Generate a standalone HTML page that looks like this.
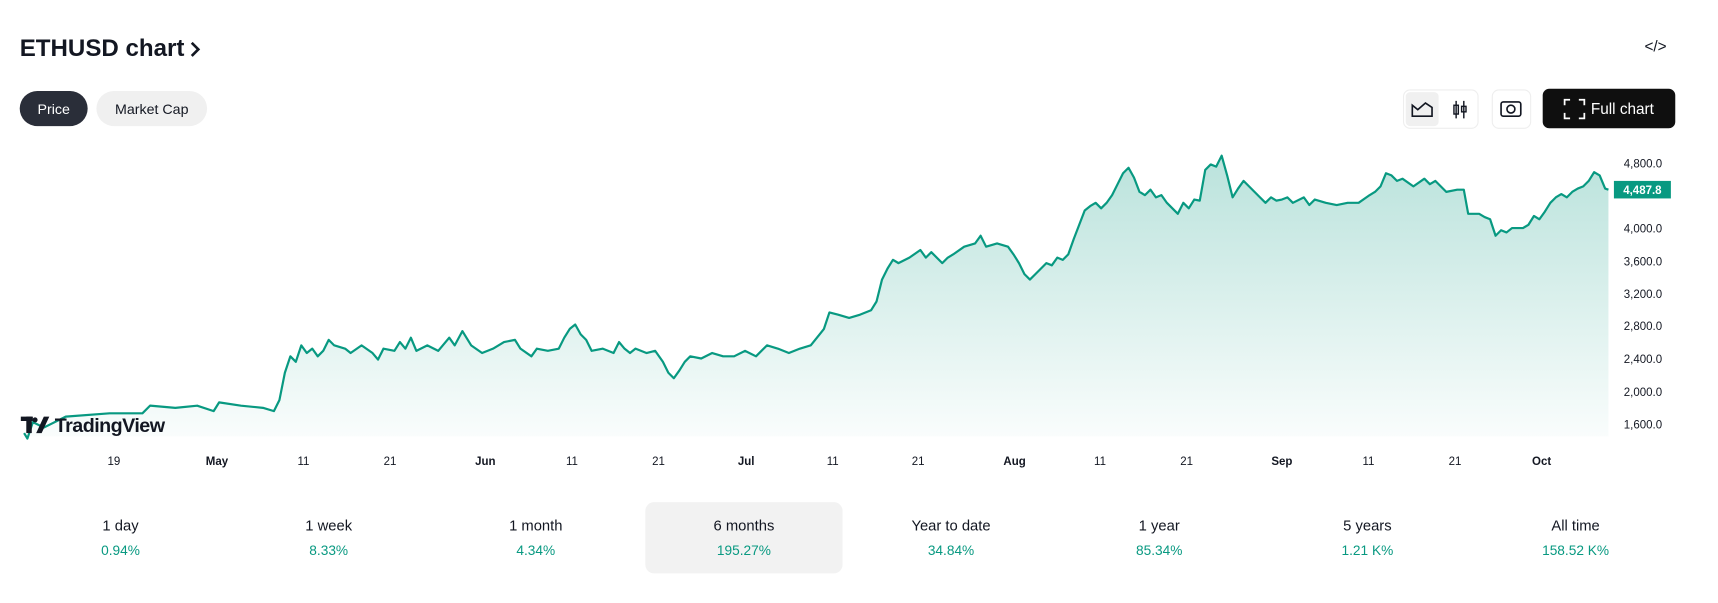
<!DOCTYPE html>
<html><head><meta charset="utf-8"><style>
html,body{margin:0;padding:0;background:#fff;}
svg{display:block;font-family:"Liberation Sans",sans-serif;}
</style></head><body>
<svg width="1718" height="603" viewBox="0 0 1568 550" preserveAspectRatio="none" xmlns="http://www.w3.org/2000/svg">
<defs>
<linearGradient id="g" x1="0" y1="0" x2="0" y2="1">
<stop offset="0" stop-color="#089981" stop-opacity="0.28"/>
<stop offset="1" stop-color="#089981" stop-opacity="0.02"/>
</linearGradient>
</defs>
<text x="18" y="51" font-size="22" font-weight="bold" fill="#131722">ETHUSD chart</text>
<path d="M175 39 L181 45 L175 51" stroke="#131722" stroke-width="2.4" fill="none"/>
<text x="1511" y="47" font-size="14" fill="#131722" text-anchor="middle">&lt;/&gt;</text>
<rect x="18" y="83" width="62" height="32" rx="16" fill="#2a2e39"/>
<text x="49" y="104" font-size="13" fill="#fff" text-anchor="middle">Price</text>
<rect x="88" y="83" width="101" height="32" rx="16" fill="#f0f0f0"/>
<text x="138.5" y="104" font-size="13" fill="#131722" text-anchor="middle">Market Cap</text>
<rect x="1281" y="82" width="68" height="35" rx="6" fill="#fff" stroke="#eee"/>
<rect x="1283" y="84" width="30" height="31" rx="4" fill="#f0f0f0"/>
<path d="M1289 106 V96 L1294 100 L1301 94 L1307 98 V106 Z" fill="none" stroke="#131722" stroke-width="1.5"/>
<path d="M1329 92 V108 M1336 92 V108" stroke="#131722" stroke-width="1.3"/>
<rect x="1327" y="96" width="4" height="8" fill="none" stroke="#131722" stroke-width="1.3"/>
<rect x="1334" y="97" width="4" height="5" fill="none" stroke="#131722" stroke-width="1.3"/>
<rect x="1362" y="82" width="35" height="35" rx="6" fill="#fff" stroke="#eee"/>
<rect x="1370" y="93" width="18" height="13" rx="2" fill="none" stroke="#131722" stroke-width="1.5"/>
<circle cx="1379" cy="99.5" r="3.6" fill="none" stroke="#131722" stroke-width="1.5"/>
<rect x="1408" y="81" width="121" height="36" rx="6" fill="#0f0f0f"/>
<path d="M1428 96v-5h5 M1441 91h5v5 M1446 103v5h-5 M1433 108h-5v-5" stroke="#fff" stroke-width="1.6" fill="none"/>
<text x="1452" y="104" font-size="14" fill="#fff">Full chart</text>

<path d="M22,395 L25,400 L30,385 L40,390 L60,380 L100,377 L130,377 L137,370 L160,372 L180,370 L195,375 L200,367 L220,370 L240,372 L250,375 L255,365 L260,340 L265,325 L270,330 L275,315 L280,322 L285,318 L290,325 L295,320 L300,310 L305,315 L315,318 L320,322 L330,315 L340,322 L345,328 L350,318 L360,320 L365,312 L370,318 L375,308 L380,320 L390,315 L400,320 L410,308 L415,315 L422,302 L430,315 L440,322 L450,318 L460,312 L470,310 L475,318 L485,325 L490,318 L500,320 L510,318 L515,308 L520,300 L525,296 L530,305 L535,310 L540,320 L550,318 L560,322 L565,312 L570,318 L575,322 L580,318 L590,322 L598,320 L605,330 L610,340 L615,345 L620,338 L625,330 L630,325 L640,327 L650,322 L660,325 L670,325 L680,320 L690,325 L700,315 L710,318 L720,322 L730,318 L740,315 L748,305 L752,300 L757,285 L765,287 L775,290 L785,287 L795,283 L800,275 L805,255 L810,245 L815,237 L820,240 L830,235 L840,228 L845,235 L850,230 L860,240 L865,235 L870,232 L880,225 L890,222 L895,215 L900,225 L910,222 L920,225 L925,232 L930,240 L935,250 L940,255 L945,250 L950,245 L955,240 L960,242 L965,235 L970,237 L975,232 L980,218 L985,205 L990,192 L995,188 L1000,185 L1005,190 L1010,185 L1015,178 L1020,168 L1025,158 L1030,153 L1035,162 L1040,175 L1045,178 L1050,173 L1055,180 L1060,178 L1065,185 L1070,190 L1075,195 L1080,185 L1085,190 L1090,182 L1095,183 L1100,155 L1105,150 L1110,152 L1115,142 L1120,160 L1125,180 L1130,172 L1135,165 L1140,170 L1145,175 L1150,180 L1155,185 L1160,180 L1165,183 L1170,182 L1175,180 L1180,185 L1190,180 L1195,187 L1200,182 L1210,185 L1220,187 L1230,185 L1240,185 L1250,178 L1255,175 L1260,170 L1265,158 L1270,160 L1275,165 L1280,163 L1290,170 L1300,163 L1305,168 L1310,165 L1320,175 L1330,173 L1336,173 L1340,195 L1350,195 L1355,198 L1360,200 L1365,215 L1370,210 L1375,212 L1380,208 L1390,208 L1395,205 L1400,197 L1405,200 L1410,193 L1415,185 L1420,180 L1425,177 L1430,180 L1435,175 L1440,172 L1445,170 L1450,165 L1455,157 L1460,160 L1465,172 L1468,173 L1468,398 L22,398 Z" fill="url(#g)"/>
<path d="M22,395 L25,400 L30,385 L40,390 L60,380 L100,377 L130,377 L137,370 L160,372 L180,370 L195,375 L200,367 L220,370 L240,372 L250,375 L255,365 L260,340 L265,325 L270,330 L275,315 L280,322 L285,318 L290,325 L295,320 L300,310 L305,315 L315,318 L320,322 L330,315 L340,322 L345,328 L350,318 L360,320 L365,312 L370,318 L375,308 L380,320 L390,315 L400,320 L410,308 L415,315 L422,302 L430,315 L440,322 L450,318 L460,312 L470,310 L475,318 L485,325 L490,318 L500,320 L510,318 L515,308 L520,300 L525,296 L530,305 L535,310 L540,320 L550,318 L560,322 L565,312 L570,318 L575,322 L580,318 L590,322 L598,320 L605,330 L610,340 L615,345 L620,338 L625,330 L630,325 L640,327 L650,322 L660,325 L670,325 L680,320 L690,325 L700,315 L710,318 L720,322 L730,318 L740,315 L748,305 L752,300 L757,285 L765,287 L775,290 L785,287 L795,283 L800,275 L805,255 L810,245 L815,237 L820,240 L830,235 L840,228 L845,235 L850,230 L860,240 L865,235 L870,232 L880,225 L890,222 L895,215 L900,225 L910,222 L920,225 L925,232 L930,240 L935,250 L940,255 L945,250 L950,245 L955,240 L960,242 L965,235 L970,237 L975,232 L980,218 L985,205 L990,192 L995,188 L1000,185 L1005,190 L1010,185 L1015,178 L1020,168 L1025,158 L1030,153 L1035,162 L1040,175 L1045,178 L1050,173 L1055,180 L1060,178 L1065,185 L1070,190 L1075,195 L1080,185 L1085,190 L1090,182 L1095,183 L1100,155 L1105,150 L1110,152 L1115,142 L1120,160 L1125,180 L1130,172 L1135,165 L1140,170 L1145,175 L1150,180 L1155,185 L1160,180 L1165,183 L1170,182 L1175,180 L1180,185 L1190,180 L1195,187 L1200,182 L1210,185 L1220,187 L1230,185 L1240,185 L1250,178 L1255,175 L1260,170 L1265,158 L1270,160 L1275,165 L1280,163 L1290,170 L1300,163 L1305,168 L1310,165 L1320,175 L1330,173 L1336,173 L1340,195 L1350,195 L1355,198 L1360,200 L1365,215 L1370,210 L1375,212 L1380,208 L1390,208 L1395,205 L1400,197 L1405,200 L1410,193 L1415,185 L1420,180 L1425,177 L1430,180 L1435,175 L1440,172 L1445,170 L1450,165 L1455,157 L1460,160 L1465,172 L1468,173" fill="none" stroke="#089981" stroke-width="2" stroke-linejoin="round"/>

<g font-size="10.5" fill="#131722">
<text x="1482" y="153">4,800.0</text>
<text x="1482" y="212">4,000.0</text>
<text x="1482" y="242">3,600.0</text>
<text x="1482" y="272">3,200.0</text>
<text x="1482" y="301">2,800.0</text>
<text x="1482" y="331">2,400.0</text>
<text x="1482" y="361">2,000.0</text>
<text x="1482" y="391">1,600.0</text>
</g>
<rect x="1473" y="165" width="52" height="16" fill="#089981"/>
<text x="1499" y="177" font-size="10.5" font-weight="bold" fill="#fff" text-anchor="middle">4,487.8</text>

<g font-size="10.5" fill="#131722" text-anchor="middle">
<text x="104" y="424">19</text><text x="198" y="424" font-weight="bold">May</text>
<text x="277" y="424">11</text><text x="356" y="424">21</text>
<text x="443" y="424" font-weight="bold">Jun</text><text x="522" y="424">11</text>
<text x="601" y="424">21</text><text x="681" y="424" font-weight="bold">Jul</text>
<text x="760" y="424">11</text><text x="838" y="424">21</text>
<text x="926" y="424" font-weight="bold">Aug</text><text x="1004" y="424">11</text>
<text x="1083" y="424">21</text><text x="1170" y="424" font-weight="bold">Sep</text>
<text x="1249" y="424">11</text><text x="1328" y="424">21</text>
<text x="1407" y="424" font-weight="bold">Oct</text>
</g>

<g fill="#131722">
<rect x="19" y="380" width="11" height="4"/><rect x="24" y="380" width="5" height="15"/>
<path d="M33 395 L40 380 L45 380 L38 395 Z"/>
<circle cx="32" cy="383" r="2.3"/>
<text x="50" y="394" font-size="18" font-weight="bold" letter-spacing="-0.5">TradingView</text>
</g>

<rect x="589" y="458" width="180" height="65" rx="8" fill="#f2f2f2"/>
<g font-size="13.5" text-anchor="middle">
<g fill="#131722">
<text x="110" y="484">1 day</text><text x="300" y="484">1 week</text>
<text x="489" y="484">1 month</text><text x="679" y="484">6 months</text>
<text x="868" y="484">Year to date</text><text x="1058" y="484">1 year</text>
<text x="1248" y="484">5 years</text><text x="1438" y="484">All time</text>
</g>
<g fill="#089981" font-size="12.5">
<text x="110" y="506">0.94%</text><text x="300" y="506">8.33%</text>
<text x="489" y="506">4.34%</text><text x="679" y="506">195.27%</text>
<text x="868" y="506">34.84%</text><text x="1058" y="506">85.34%</text>
<text x="1248" y="506">1.21 K%</text><text x="1438" y="506">158.52 K%</text>
</g>
</g>
</svg>
</body></html>
